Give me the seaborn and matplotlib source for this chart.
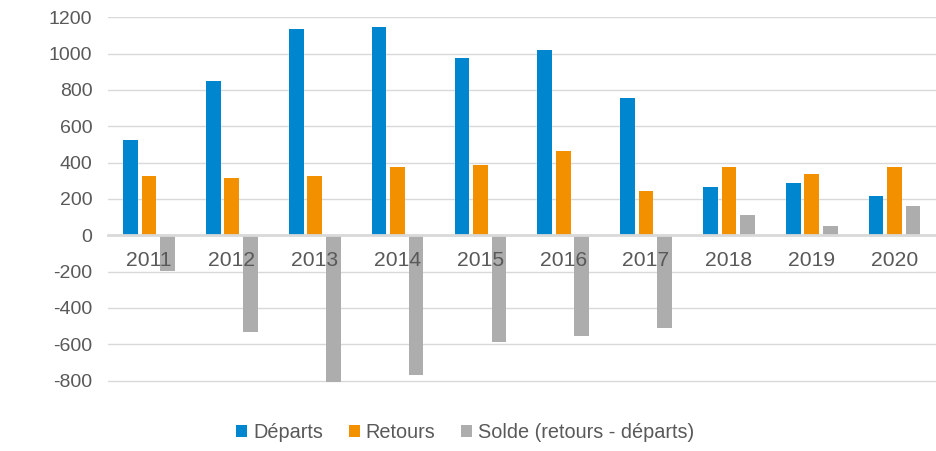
import matplotlib
matplotlib.use("Agg")
import matplotlib.pyplot as plt
import seaborn as sns
import pandas as pd

years = ["2011", "2012", "2013", "2014", "2015", "2016", "2017", "2018", "2019", "2020"]
departs = [525, 850, 1136, 1147, 976, 1020, 756, 266, 288, 216]
retours = [327, 316, 327, 376, 387, 464, 244, 376, 338, 376]
solde = [-198, -534, -809, -771, -589, -556, -512, 110, 50, 160]
series_names = ["Départs", "Retours", "Solde (retours - départs)"]
colors = ["#0086CF", "#F39000", "#ADADAD"]
yticks = [-800, -600, -400, -200, 0, 200, 400, 600, 800, 1000, 1200]

rows = []
for name, vals in zip(series_names, [departs, retours, solde]):
    for y, v in zip(years, vals):
        rows.append({"year": y, "series": name, "value": v})
df = pd.DataFrame(rows)

sns.set_theme(style="white")
plt.rcParams["font.family"] = ["Liberation Sans", "DejaVu Sans"]
text_color = "#595959"

fig = plt.figure(figsize=(9.36, 4.51), dpi=100)
ax = fig.add_axes([0.115, 0.1499, 0.885, 0.8118])

sns.barplot(data=df, x="year", y="value", hue="series", hue_order=series_names,
            palette=colors, width=0.67, gap=0.2, ax=ax, errorbar=None,
            saturation=1, legend=True)
for p in ax.patches:
    p.set_linewidth(0)

ax.set_ylim(-815, 1200)
ax.set_xlim(-0.5, len(years) - 0.5)
ax.set_yticks(yticks)
ax.set_yticklabels([str(t) for t in yticks])
ax.yaxis.grid(True, color="#D9D9D9", linewidth=1)
ax.set_axisbelow(True)
ax.xaxis.set_zorder(10)
ax.set_xlabel("")
ax.set_ylabel("")

for s in ["top", "right", "left"]:
    ax.spines[s].set_visible(False)
ax.spines["bottom"].set_position(("data", 0))
ax.spines["bottom"].set_color("#D9D9D9")
ax.spines["bottom"].set_linewidth(2)
ax.spines["bottom"].set_zorder(5)

ax.tick_params(axis="x", length=0, pad=11, labelsize=15.2, labelcolor=text_color)
ax.tick_params(axis="y", length=0, pad=11, labelsize=14, labelcolor=text_color)

handles, labels = ax.get_legend_handles_labels()
ax.legend(handles, labels, loc="center", bbox_to_anchor=(0.497, 0.041),
          bbox_transform=fig.transFigure, ncol=3, frameon=False,
          fontsize=14.3, labelcolor=text_color, handlelength=0.55,
          handleheight=0.55, handletextpad=0.3, columnspacing=1.3)

fig.savefig("out.png", dpi=100)
